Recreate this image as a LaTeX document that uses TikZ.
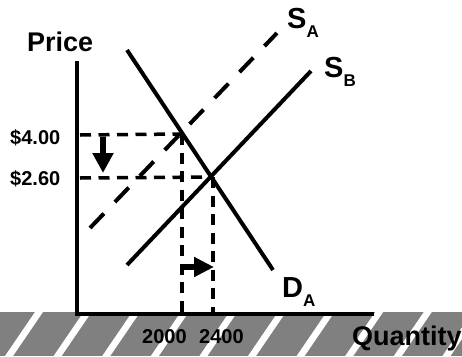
\documentclass[tikz,border=0pt]{standalone}
\usepackage{fontspec}
\setmainfont{Liberation Sans}
\usepackage{xcolor}
\usepackage{tikz}
\usetikzlibrary{arrows.meta}

\tikzset{
	axisline/.style={line width=4pt},
	supplyline/.style={line width=4pt},
	guideline/.style={line width=3.5pt, dash pattern=on 11pt off 7.5pt},
	movearrow/.style={line width=6pt, -{Triangle[length=20pt,width=20pt]}},
	lbl/.style={inner sep=0pt, anchor=base west, font=\bfseries\fontsize{20}{20}\selectfont},
	biglbl/.style={lbl, font=\bfseries\fontsize{27}{27}\selectfont},
	curvelbl/.style={lbl, font=\bfseries\fontsize{29}{29}\selectfont},
}
\newcommand{\sublbl}[1]{\raisebox{-9pt}{\fontsize{17}{17}\selectfont #1}}

\begin{document}
\begin{tikzpicture}[x=1pt,y=-1pt]
			\useasboundingbox (0,0) rectangle (462,356);
			% Hatched floor
			\fill[gray] (0,312) rectangle (462,356);
			\begin{scope}
				\clip (0,312) rectangle (462,356);
				\foreach \k in {-1,...,9}{
					\fill[white] ({35+48.6*\k},312) -- ++(8,0) -- ++(-30,44) -- ++(-8,0) -- cycle;
				}
			\end{scope}
			% Axes
			\coordinate (ytop) at (77,61);
			\coordinate (origin) at (77,314);
			\coordinate (xend) at (374,314);
			\draw[axisline] (ytop) -- (origin) -- (xend);
			% Demand and supply curves
			\coordinate (dtop) at (127,50);
			\coordinate (dbot) at (273,270);
			\coordinate (satop) at (277,33);
			\coordinate (sabot) at (90,228);
			\coordinate (sbtop) at (311,71);
			\coordinate (sbbot) at (127,265);
			\draw[supplyline] (dtop) -- (dbot);
			\draw[supplyline, dash pattern=on 20pt off 16pt] (sabot) -- (satop);
			\draw[supplyline] (sbbot) -- (sbtop);
			% Equilibrium guides
			\coordinate (eqa) at (182,134);
			\coordinate (eqb) at (212,177);
			\coordinate (pa) at (80,135);
			\coordinate (pb) at (80,178);
			\coordinate (qa) at (182,312);
			\coordinate (qb) at (213,312);
			\draw[guideline] (pa) -- (eqa);
			\draw[guideline] (pb) -- (eqb);
			\draw[guideline] (eqa) -- (qa);
			\draw[guideline] (213,177) -- (qb);
			% Shift arrows
			\coordinate (downtop) at (103,137);
			\coordinate (downtip) at (103,173);
			\coordinate (righttail) at (182,267);
			\coordinate (righttip) at (214,267);
			\draw[movearrow] (downtop) -- (downtip);
			\draw[movearrow, -{Triangle[length=20pt,width=19pt]}] (righttail) -- (righttip);
			% Labels
			\node[biglbl] (price) at (27,51) {Price};
			\node[biglbl] (quantity) at (352,345) {Quantity};
			\node[lbl] (pricea) at (10,144) {\$4.00};
			\node[lbl] (priceb) at (10,185) {\$2.60};
			\node[lbl] (quanta) at (142,343) {2000};
			\node[lbl] (quantb) at (199,343) {2400};
			\node[curvelbl] (salbl) at (287,28) {S\sublbl{A}};
			\node[curvelbl] (sblbl) at (324,77) {S\sublbl{B}};
			\node[curvelbl] (dalbl) at (282,297) {D\sublbl{A}};
		\end{tikzpicture}
\end{document}
